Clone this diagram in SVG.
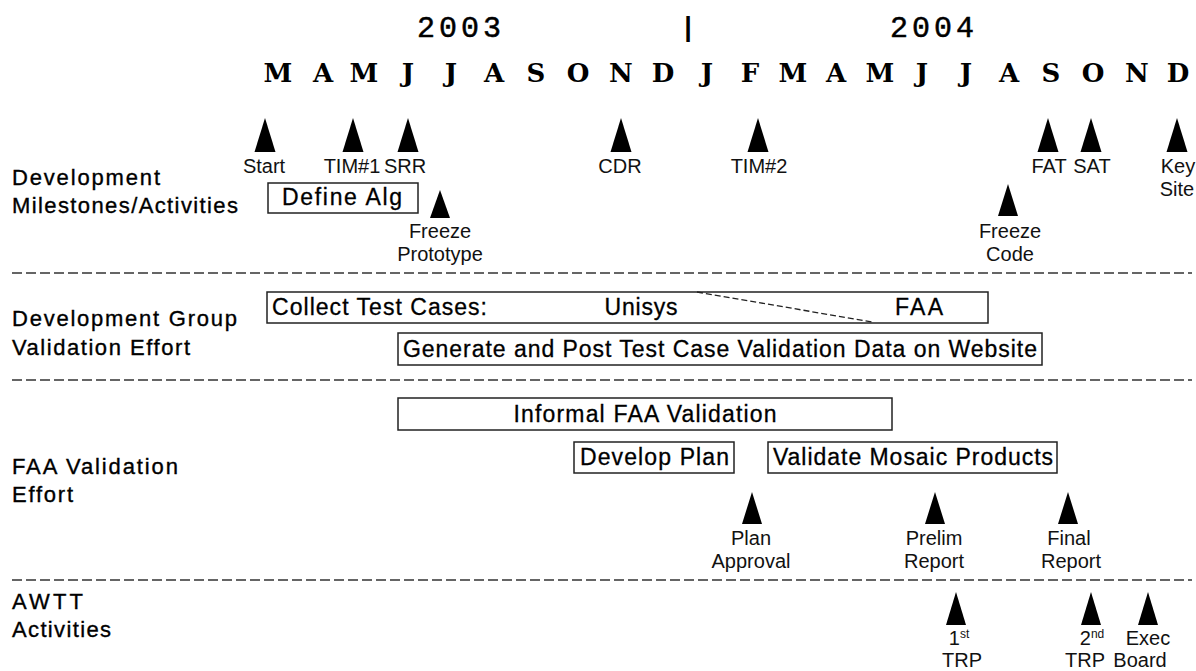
<svg xmlns="http://www.w3.org/2000/svg" width="1196" height="671" viewBox="0 0 1196 671">
<style>
.yr{font-family:"Liberation Mono","Courier New",monospace;font-size:30px;letter-spacing:4px;text-anchor:middle;fill:#000;stroke:#000;stroke-width:0.5}
.mon{font-family:"DejaVu Serif","Liberation Serif",serif;font-weight:bold;font-size:26px;text-anchor:middle;fill:#000}
.lab{font-family:"Liberation Sans",Arial,sans-serif;font-size:22px;fill:#000;stroke:#000;stroke-width:0.35}
.bt{font-family:"Liberation Sans",Arial,sans-serif;font-size:23px;fill:#000;stroke:#000;stroke-width:0.3;text-anchor:middle}
.ms{font-family:"Liberation Sans",Arial,sans-serif;font-size:20px;fill:#111;text-anchor:middle}
.box{fill:#fff;stroke:#222;stroke-width:1.5}
.tri{fill:#000}
.sep{stroke:#333;stroke-width:1.3;stroke-dasharray:10 4;fill:none}
.diag{stroke:#222;stroke-width:1.3;stroke-dasharray:6 3;fill:none}
</style>
<rect width="1196" height="671" fill="#fff"/>

<g id="timeline-header">
<text class="yr" x="461" y="37">2003</text>
<text x="688" y="36" font-family="Liberation Sans,Arial,sans-serif" font-weight="bold" font-size="27" text-anchor="middle">|</text>
<text class="yr" x="934" y="37">2004</text>
<text class="mon" x="278" y="82">M</text>
<text class="mon" x="323" y="82">A</text>
<text class="mon" x="364" y="82">M</text>
<text class="mon" x="408" y="82">J</text>
<text class="mon" x="451" y="82">J</text>
<text class="mon" x="494" y="82">A</text>
<text class="mon" x="536" y="82">S</text>
<text class="mon" x="578" y="82">O</text>
<text class="mon" x="621" y="82">N</text>
<text class="mon" x="663" y="82">D</text>
<text class="mon" x="707" y="82">J</text>
<text class="mon" x="750" y="82">F</text>
<text class="mon" x="793" y="82">M</text>
<text class="mon" x="836" y="82">A</text>
<text class="mon" x="880" y="82">M</text>
<text class="mon" x="922" y="82">J</text>
<text class="mon" x="966" y="82">J</text>
<text class="mon" x="1009" y="82">A</text>
<text class="mon" x="1051" y="82">S</text>
<text class="mon" x="1093" y="82">O</text>
<text class="mon" x="1137" y="82">N</text>
<text class="mon" x="1178" y="82">D</text>
</g>

<g id="row-labels">
<text class="lab" x="12" y="185" textLength="148">Development</text>
<text class="lab" x="12" y="213" textLength="226">Milestones/Activities</text>
<text class="lab" x="12" y="326" textLength="225">Development Group</text>
<text class="lab" x="12" y="355" textLength="178">Validation Effort</text>
<text class="lab" x="12" y="474" textLength="166">FAA Validation</text>
<text class="lab" x="12" y="502" textLength="61">Effort</text>
<text class="lab" x="12" y="609" textLength="71">AWTT</text>
<text class="lab" x="12" y="637" textLength="99">Activities</text>
</g>

<g id="separators">
<line class="sep" x1="12" y1="273" x2="1192" y2="273"/>
<line class="sep" x1="12" y1="380" x2="1192" y2="380"/>
<line class="sep" x1="12" y1="580" x2="1192" y2="580"/>
</g>

<g id="ms-start"><polygon class="tri" points="265,118 275.5,152 254.5,152"/><text class="ms" x="264" y="173">Start</text></g>
<g id="ms-tim1"><polygon class="tri" points="353,118 363.5,152 342.5,152"/><text class="ms" x="352" y="173">TIM#1</text></g>
<g id="ms-srr"><polygon class="tri" points="408,118 418.5,152 397.5,152"/><text class="ms" x="405" y="173">SRR</text></g>
<g id="ms-cdr"><polygon class="tri" points="621,118 631.5,152 610.5,152"/><text class="ms" x="620" y="173">CDR</text></g>
<g id="ms-tim2"><polygon class="tri" points="758,118 768.5,152 747.5,152"/><text class="ms" x="759" y="173">TIM#2</text></g>
<g id="ms-fat"><polygon class="tri" points="1048,118 1058.5,152 1037.5,152"/><text class="ms" x="1049" y="173">FAT</text></g>
<g id="ms-sat"><polygon class="tri" points="1091,118 1101.5,152 1080.5,152"/><text class="ms" x="1092" y="173">SAT</text></g>
<g id="ms-keysite"><polygon class="tri" points="1177,118 1187.5,152 1166.5,152"/><text class="ms" x="1178" y="173">Key</text><text class="ms" x="1177" y="196">Site</text></g>

<g id="box-define-alg"><rect class="box" x="268" y="183" width="150" height="30"/><text class="bt" x="342" y="205" textLength="120">Define Alg</text></g>
<g id="ms-freeze-prototype"><polygon class="tri" points="440,190 450,218 430,218"/><text class="ms" x="440" y="238">Freeze</text><text class="ms" x="440" y="261">Prototype</text></g>
<g id="ms-freeze-code"><polygon class="tri" points="1008,184 1018,216 998,216"/><text class="ms" x="1010" y="238">Freeze</text><text class="ms" x="1010" y="261">Code</text></g>

<g id="box-collect"><rect class="box" x="267" y="292" width="721" height="31"/>
<text class="bt" x="272" y="315" style="text-anchor:start" textLength="215">Collect Test Cases:</text>
<text class="bt" x="641" y="315" textLength="73">Unisys</text>
<text class="bt" x="919" y="315" textLength="48">FAA</text></g>
<g id="box-generate"><rect class="box" x="398" y="333" width="644" height="32"/><text class="bt" x="720" y="357" textLength="634">Generate and Post Test Case Validation Data on Website</text></g>

<g id="connectors"><line class="diag" x1="697" y1="292" x2="872" y2="322"/></g>

<g id="box-informal"><rect class="box" x="398" y="398" width="494" height="32"/><text class="bt" x="645" y="422" textLength="263">Informal FAA Validation</text></g>
<g id="box-develop-plan"><rect class="box" x="574" y="442" width="160" height="31"/><text class="bt" x="654.5" y="465" textLength="149">Develop Plan</text></g>
<g id="box-validate"><rect class="box" x="768" y="442" width="289" height="31"/><text class="bt" x="913" y="465" textLength="280">Validate Mosaic Products</text></g>

<g id="ms-plan-approval"><polygon class="tri" points="752,492 762,524 742,524"/><text class="ms" x="751" y="545">Plan</text><text class="ms" x="751" y="568">Approval</text></g>
<g id="ms-prelim"><polygon class="tri" points="935,492 945,524 925,524"/><text class="ms" x="934" y="545">Prelim</text><text class="ms" x="934" y="568">Report</text></g>
<g id="ms-final"><polygon class="tri" points="1068,492 1078,524 1058,524"/><text class="ms" x="1069" y="545">Final</text><text class="ms" x="1071" y="568">Report</text></g>

<g id="ms-trp1"><polygon class="tri" points="956,592 966,625 946,625"/><text class="ms" x="959" y="645">1<tspan font-size="12" dy="-7">st</tspan></text><text class="ms" x="962" y="667">TRP</text></g>
<g id="ms-trp2"><polygon class="tri" points="1091,592 1101,625 1081,625"/><text class="ms" x="1092" y="645">2<tspan font-size="12" dy="-7">nd</tspan></text><text class="ms" x="1085" y="667">TRP</text></g>
<g id="ms-exec"><polygon class="tri" points="1148,592 1158,625 1138,625"/><text class="ms" x="1148" y="645">Exec</text><text class="ms" x="1140" y="667">Board</text></g>
</svg>
